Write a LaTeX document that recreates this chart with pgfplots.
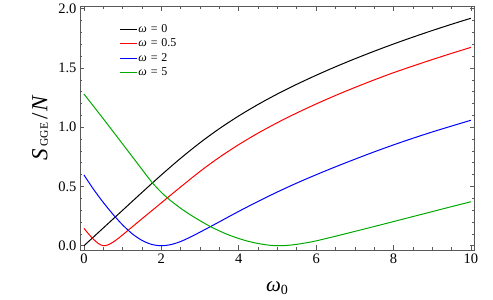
\documentclass[border=0pt]{standalone}
\usepackage{pgfplots}
\pgfplotsset{compat=1.18}
\usepackage{fontspec}
\setmainfont{Liberation Serif}
\definecolor{mgreen}{rgb}{0,0.667,0}
\definecolor{mred}{rgb}{1,0,0}
\definecolor{mblue}{rgb}{0,0,1}
\pgfplotsset{mylegend/.style={legend image code/.code={%
  \draw[##1, line width=1pt] (0pt,0pt) -- (12pt,0pt);
  \path (0pt,0pt) -- (16.5pt,0pt);}}}
\newcommand{\om}[1]{\textit{ω}\hspace{0.32em}=\hspace{0.32em}#1}
\begin{document}
\begin{tikzpicture}
\begin{axis}[
  scale only axis, width=394pt, height=243.5pt,
  xmin=-0.103, xmax=10.08, ymin=-0.036, ymax=2.019,
  xtick={0,2,4,6,8,10}, ytick={0,0.5,1,1.5,2},
  minor x tick num=3, minor y tick num=4,
  tick align=inside, major tick length=4.5pt, minor tick length=2.5pt,
  axis line style={black!65, line width=0.8pt},
  every tick/.style={black!65, line width=0.6pt},
  /pgf/number format/assume math mode=true,
  xticklabel style={font=\fontsize{14.5}{14.5}\selectfont, /pgf/number format/fixed},
  yticklabel style={font=\fontsize{14.5}{14.5}\selectfont, /pgf/number format/fixed, /pgf/number format/precision=1, /pgf/number format/fixed zerofill},
  every axis y label/.style={at={(axis description cs:-0.1015,0.5)}, rotate=90, anchor=center},
  every axis x label/.style={at={(axis description cs:0.5,-0.158)}, anchor=center},
  xlabel={{\fontsize{21}{21}\selectfont\textit{ω}\raisebox{-3pt}{\fontsize{14}{14}\selectfont 0}}},
  ylabel={{\fontsize{23}{23}\selectfont\textit{S}\kern3pt\raisebox{-0.5pt}{\fontsize{11.5}{11.5}\selectfont GGE}\kern3pt/\kern1.5pt\textit{N}}},
  legend cell align=left,
  mylegend,
  legend style={at={(axis description cs:0.101,0.935)}, anchor=north west, draw=none, fill=none,
    font=\fontsize{12}{12}\selectfont, inner sep=0pt, row sep=1.5pt,
    nodes={inner sep=1pt, text height=8.5pt, text depth=2.5pt}},
  every axis plot/.append style={line width=1pt, smooth},
]
\addplot[black] coordinates {
(0,0) (0.5,0.150) (1,0.300) (1.5,0.450) (2,0.5975) (2.5,0.7385) (3,0.8695) (3.5,0.9885)
(4,1.0955) (4.5,1.1925) (5,1.281) (5.5,1.3625) (6,1.4385) (6.5,1.510) (7,1.5775) (7.5,1.6415)
(8,1.7025) (8.5,1.7605) (9,1.816) (9.5,1.869) (10,1.920)};
\addlegendentry{\om{0}}
\addplot[mred] coordinates {
(0,0.147) (0.125,0.097) (0.25,0.053) (0.375,0.018) (0.5,0) (0.625,0.008) (0.75,0.030)
(0.875,0.059) (1,0.092) (1.25,0.160) (1.5,0.228) (1.75,0.295) (2,0.362) (2.25,0.430)
(2.5,0.4965) (3,0.6275) (3.5,0.7465) (4,0.8535) (4.5,0.9505) (5,1.039) (5.5,1.1205) (6,1.1965)
(6.5,1.268) (7,1.3355) (7.5,1.3995) (8,1.4605) (8.5,1.5165) (9,1.571) (9.5,1.6235) (10,1.674)};
\addlegendentry{\om{0.5}}
\addplot[mblue] coordinates {
(0,0.597) (0.25,0.475) (0.5,0.365) (0.75,0.265) (1,0.175) (1.25,0.100) (1.5,0.045)
(1.75,0.011) (2,0) (2.25,0.010) (2.5,0.036) (2.75,0.073) (3,0.115) (3.25,0.158) (3.5,0.202)
(4,0.290) (4.5,0.374) (5,0.454) (5.5,0.529) (6,0.599) (6.5,0.666) (7,0.730) (7.5,0.792)
(8,0.851) (8.5,0.907) (9,0.960) (9.5,1.010) (10,1.059)};
\addlegendentry{\om{2}}
\addplot[mgreen] coordinates {
(0,1.280) (0.25,1.176) (0.5,1.071) (0.75,0.965) (1,0.858) (1.25,0.751) (1.5,0.644)
(1.75,0.538) (2,0.450) (2.25,0.378) (2.5,0.316) (2.75,0.261) (3,0.211) (3.25,0.165)
(3.5,0.125) (3.75,0.090) (4,0.061) (4.25,0.037) (4.5,0.019) (4.75,0.006) (5,0)
(5.25,0.003) (5.5,0.012) (5.75,0.025) (6,0.041) (6.5,0.080) (7,0.121) (7.5,0.162)
(8,0.204) (8.5,0.246) (9,0.288) (9.5,0.330) (10,0.371)};
\addlegendentry{\om{5}}
\end{axis}
\pgfresetboundingbox
\path[use as bounding box] (-80pt,-50pt) rectangle (413pt,250pt);
\end{tikzpicture}
\end{document}
